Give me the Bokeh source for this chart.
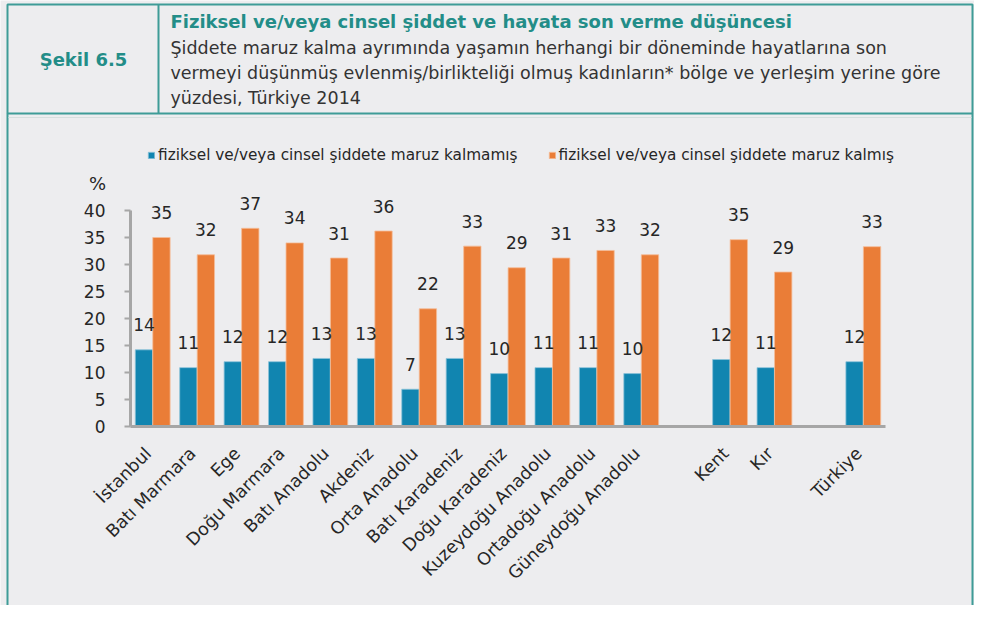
from math import pi
from bokeh.plotting import figure
from bokeh.models import (Range1d, ColumnDataSource, Legend, LegendItem, FixedTicker, LinearAxis)
from bokeh.transform import dodge
from bokeh.embed import file_html
from bokeh.resources import INLINE
from bokeh.core.properties import value

# ---------------- data ----------------
groups = ["Bölge"] * 12 + ["Yerleşim yeri"] * 2 + ["Toplam"]
categories = ["İstanbul", "Batı Marmara", "Ege", "Doğu Marmara", "Batı Anadolu", "Akdeniz",
              "Orta Anadolu", "Batı Karadeniz", "Doğu Karadeniz", "Kuzeydoğu Anadolu",
              "Ortadoğu Anadolu", "Güneydoğu Anadolu", "Kent", "Kır", "Türkiye"]
not_exposed = [14.2, 10.9, 12.0, 12.0, 12.6, 12.6, 6.9, 12.6, 9.8, 10.9, 10.9, 9.8, 12.4, 10.9, 12.0]
exposed = [35.0, 31.8, 36.7, 34.0, 31.2, 36.2, 21.8, 33.4, 29.4, 31.2, 32.6, 31.8, 34.6, 28.6, 33.3]
series_names = ["fiziksel ve/veya cinsel şiddete maruz kalmamış",
                "fiziksel ve/veya cinsel şiddete maruz kalmış"]
y_ticks = [0, 5, 10, 15, 20, 25, 30, 35, 40]
y_unit = "%"

title_text = "Fiziksel ve/veya cinsel şiddet ve hayata son verme düşüncesi"
subtitle_lines = ["Şiddete maruz kalma ayrımında yaşamın herhangi bir döneminde hayatlarına son",
                  "vermeyi düşünmüş evlenmiş/birlikteliği olmuş kadınların* bölge ve yerleşim yerine göre",
                  "yüzdesi, Türkiye 2014"]
figure_label = "Şekil 6.5"

# ---------------- styles / layout (pixels) ----------------
FONT = "DejaVu Sans"
BG = "#EDEDEF"
TEAL = "#238D88"
BORDER = "#3E9C97"
BLUE = "#1185B0"
ORANGE = "#EA7D37"
AXIS = "#A6A6A6"
TXT = "#262626"

W, H = 974, 605
PLOT_LEFT, PLOT_RIGHT = 130, 885     # pixel extent of category axis
ZERO_Y, PX_PER_UNIT = 426, 5.4       # pixel of value 0, pixels per %
LABEL_SHIFT = 0.1                    # shift of rotated category labels (slots)

# category slots (one empty slot between groups)
positions = []
k = 0
for i, g in enumerate(groups):
    if i > 0 and g != groups[i - 1]:
        k += 1
    positions.append(k)
    k += 1
n_slots = k
slot_px = (PLOT_RIGHT - PLOT_LEFT) / n_slots
x_start = -0.5 - PLOT_LEFT / slot_px
x_end = x_start + W / slot_px
y_end = ZERO_Y / PX_PER_UNIT
y_start = -(H - ZERO_Y) / PX_PER_UNIT

p = figure(width=W, height=H, x_range=Range1d(x_start, x_end), y_range=Range1d(y_start, y_end),
           output_backend="svg", toolbar_location=None, min_border=0,
           x_axis_location=None, y_axis_location=None,
           background_fill_color=BG, border_fill_color=BG, outline_line_color=None)
p.grid.visible = False
p.extra_x_ranges = {"px": Range1d(0, W)}
p.extra_y_ranges = {"px": Range1d(H, 0)}
PX = dict(x_range_name="px", y_range_name="px")

# ---------------- header & frame decoration ----------------
p.quad(left=7, right=W - 2, top=4, bottom=113, fill_color=None, line_color=BORDER, line_width=2, **PX)
p.segment(x0=158, y0=4, x1=158, y1=113, line_color=BORDER, line_width=2, **PX)
p.segment(x0=[7, W - 2], y0=[113, 113], x1=[7, W - 2], y1=[H, H], line_color=BORDER, line_width=2, **PX)
p.segment(x0=8, y0=117, x1=W - 3, y1=117, line_color="#D6DFDE", line_width=1, **PX)
p.text(x=[83], y=[59], text=[figure_label], text_align="center", text_baseline="middle",
       text_font=value(FONT), text_font_style="bold", text_font_size="18px", text_color=TEAL, **PX)
p.text(x=[170], y=[21], text=[title_text], text_align="left", text_baseline="middle",
       text_font=value(FONT), text_font_style="bold", text_font_size="18px", text_color=TEAL, **PX)
p.text(x=[170] * 3, y=[47, 72, 97], text=subtitle_lines, text_align="left", text_baseline="middle",
       text_font=value(FONT), text_font_size="17.5px", text_color="#333333", **PX)
p.text(x=[97], y=[183], text=[y_unit], text_align="center", text_baseline="middle",
       text_font=value(FONT), text_font_size="18px", text_color=TXT, **PX)

# ---------------- bars ----------------
src = ColumnDataSource(dict(
    x=positions,
    a=not_exposed,
    b=exposed,
    la=[str(int(v + 0.5)) for v in not_exposed],
    lb=[str(int(v + 0.5)) for v in exposed],
))
off = 0.197
bw = 0.39
r1 = p.vbar(x=dodge("x", -off), top="a", bottom=0, width=bw, source=src,
            fill_color=BLUE, line_color="#8CC3D9", line_width=0.8)
r2 = p.vbar(x=dodge("x", off), top="b", bottom=0, width=bw, source=src,
            fill_color=ORANGE, line_color="#F5BC98", line_width=0.8)
p.text(x=dodge("x", -off), y="a", text="la", source=src,
       text_align="center", text_baseline="alphabetic", y_offset=-25,
       text_font=value(FONT), text_font_size="17px", text_color=TXT)
p.text(x=dodge("x", off), y="b", text="lb", source=src,
       text_align="center", text_baseline="alphabetic", y_offset=-25,
       text_font=value(FONT), text_font_size="17px", text_color=TXT)

# ---------------- axes ----------------
ya = LinearAxis(ticker=FixedTicker(ticks=y_ticks), fixed_location=-0.5, bounds=(y_ticks[0], y_ticks[-1]))
ya.minor_tick_line_color = None
ya.axis_line_color = AXIS
ya.axis_line_width = 3
ya.major_tick_line_color = AXIS
ya.major_tick_line_width = 2
ya.major_tick_in = 0
ya.major_tick_out = 6
ya.major_label_standoff = 19
ya.major_label_text_font = FONT
ya.major_label_text_font_size = "17px"
ya.major_label_text_color = TXT
p.add_layout(ya, "left")

label_ticks = [pp - LABEL_SHIFT for pp in positions]
xa = LinearAxis(ticker=FixedTicker(ticks=label_ticks),
                major_label_overrides={t: c for t, c in zip(label_ticks, categories)},
                fixed_location=0, bounds=(-0.5, n_slots - 0.5))
xa.axis_line_color = AXIS
xa.axis_line_width = 3
xa.major_tick_line_color = None
xa.minor_tick_line_color = None
xa.major_label_orientation = pi / 4
xa.major_label_standoff = 18
xa.major_label_text_font = FONT
xa.major_label_text_font_size = "17.5px"
xa.major_label_text_color = TXT
p.add_layout(xa, "below")

# ---------------- legend ----------------
legend = Legend(items=[LegendItem(label=series_names[0], renderers=[r1]),
                       LegendItem(label=series_names[1], renderers=[r2])],
                orientation="horizontal", location=(147, H - 164),
                glyph_width=8, glyph_height=8, label_standoff=3, label_height=16,
                spacing=30, padding=0, margin=0,
                border_line_color=None, background_fill_alpha=0,
                label_text_font=FONT, label_text_font_size="15.3px", label_text_color=TXT)
p.add_layout(legend, "center")

open("out.html", "w").write(file_html(p, INLINE))
